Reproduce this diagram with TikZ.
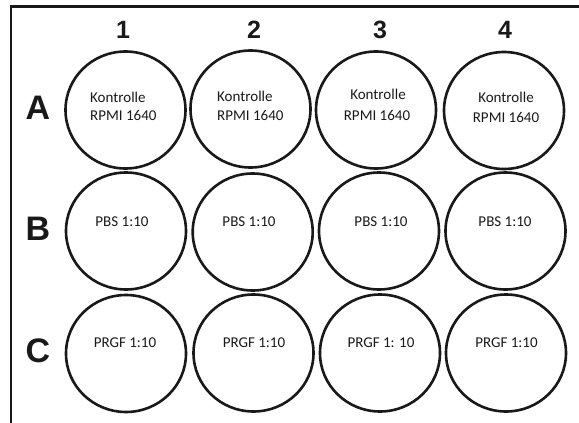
\documentclass[tikz,border=0pt]{standalone}
\usepackage{fontspec}
\setmainfont{Liberation Sans}
\newfontfamily\calfont{Carlito}
\usetikzlibrary{shapes.geometric}
\begin{document}
\begin{tikzpicture}[x=1pt,y=-1pt,
  well/.style={draw=black!90,line width=2.6pt,ellipse,minimum width=120pt,minimum height=117pt,inner sep=0pt},
  coltxt/.style={font=\fontsize{25}{25}\selectfont\bfseries,text=black!90,inner sep=0pt},
  rowtxt/.style={font=\fontsize{34}{34}\selectfont\bfseries,text=black!90,inner sep=0pt},
  welltxt/.style={font=\calfont\fontsize{15}{15}\selectfont,text=black!90,inner sep=0pt}]
\useasboundingbox (0,0) rectangle (579,423);
\coordinate (tl) at (11,6.5);
\coordinate (tr) at (580,6.5);
\coordinate (bl) at (11,424);
\draw[line width=2.6pt,black!90] (tr) -- (tl) -- (bl);
% column labels
\node[coltxt] (c1) at (123,30) {1};
\node[coltxt] (c2) at (254,30) {2};
\node[coltxt] (c3) at (380,30) {3};
\node[coltxt] (c4) at (505,30) {4};
% row labels
\node[rowtxt] (rA) at (38,108) {A};
\node[rowtxt] (rB) at (38,229) {B};
\node[rowtxt] (rC) at (38,351) {C};
% wells
\node[well] (a1) at (125.5,110) {};
\node[well] (a2) at (250.5,109) {};
\node[well] (a3) at (376,110) {};
\node[well] (a4) at (504,110.5) {};
\node[well] (b1) at (126,231) {};
\node[well] (b2) at (252.7,232) {};
\node[well] (b3) at (379,231) {};
\node[well] (b4) at (505.5,231) {};
\node[well] (w1) at (126,353.5) {};
\node[well] (w2) at (253.5,353) {};
\node[well] (w3) at (380,353) {};
\node[well] (w4) at (506,353) {};
% texts row A
\node[welltxt,anchor=west] (ta1k) at (90,97) {Kontrolle};
\node[welltxt,anchor=west] (ta1r) at (90,115) {RPMI 1640};
\node[welltxt,anchor=west] (ta2k) at (217,96) {Kontrolle};
\node[welltxt,anchor=west] (ta2r) at (217,115) {RPMI 1640};
\node[welltxt] (ta3k) at (378,94) {Kontrolle};
\node[welltxt] (ta3r) at (377,115) {RPMI 1640};
\node[welltxt] (ta4k) at (506,97) {Kontrolle};
\node[welltxt] (ta4r) at (506,117) {RPMI 1640};
% texts row B
\node[welltxt] (tb1) at (122,222) {PBS 1:10};
\node[welltxt] (tb2) at (249,222) {PBS 1:10};
\node[welltxt] (tb3) at (381,222) {PBS 1:10};
\node[welltxt] (tb4) at (505,222) {PBS 1:10};
% texts row C
\node[welltxt] (tc1) at (125,343) {PRGF 1:10};
\node[welltxt] (tc2) at (254,343) {PRGF 1:10};
\node[welltxt] (tc3) at (381,343) {PRGF 1: 10};
\node[welltxt] (tc4) at (506.5,343) {PRGF 1:10};
\end{tikzpicture}
\end{document}
